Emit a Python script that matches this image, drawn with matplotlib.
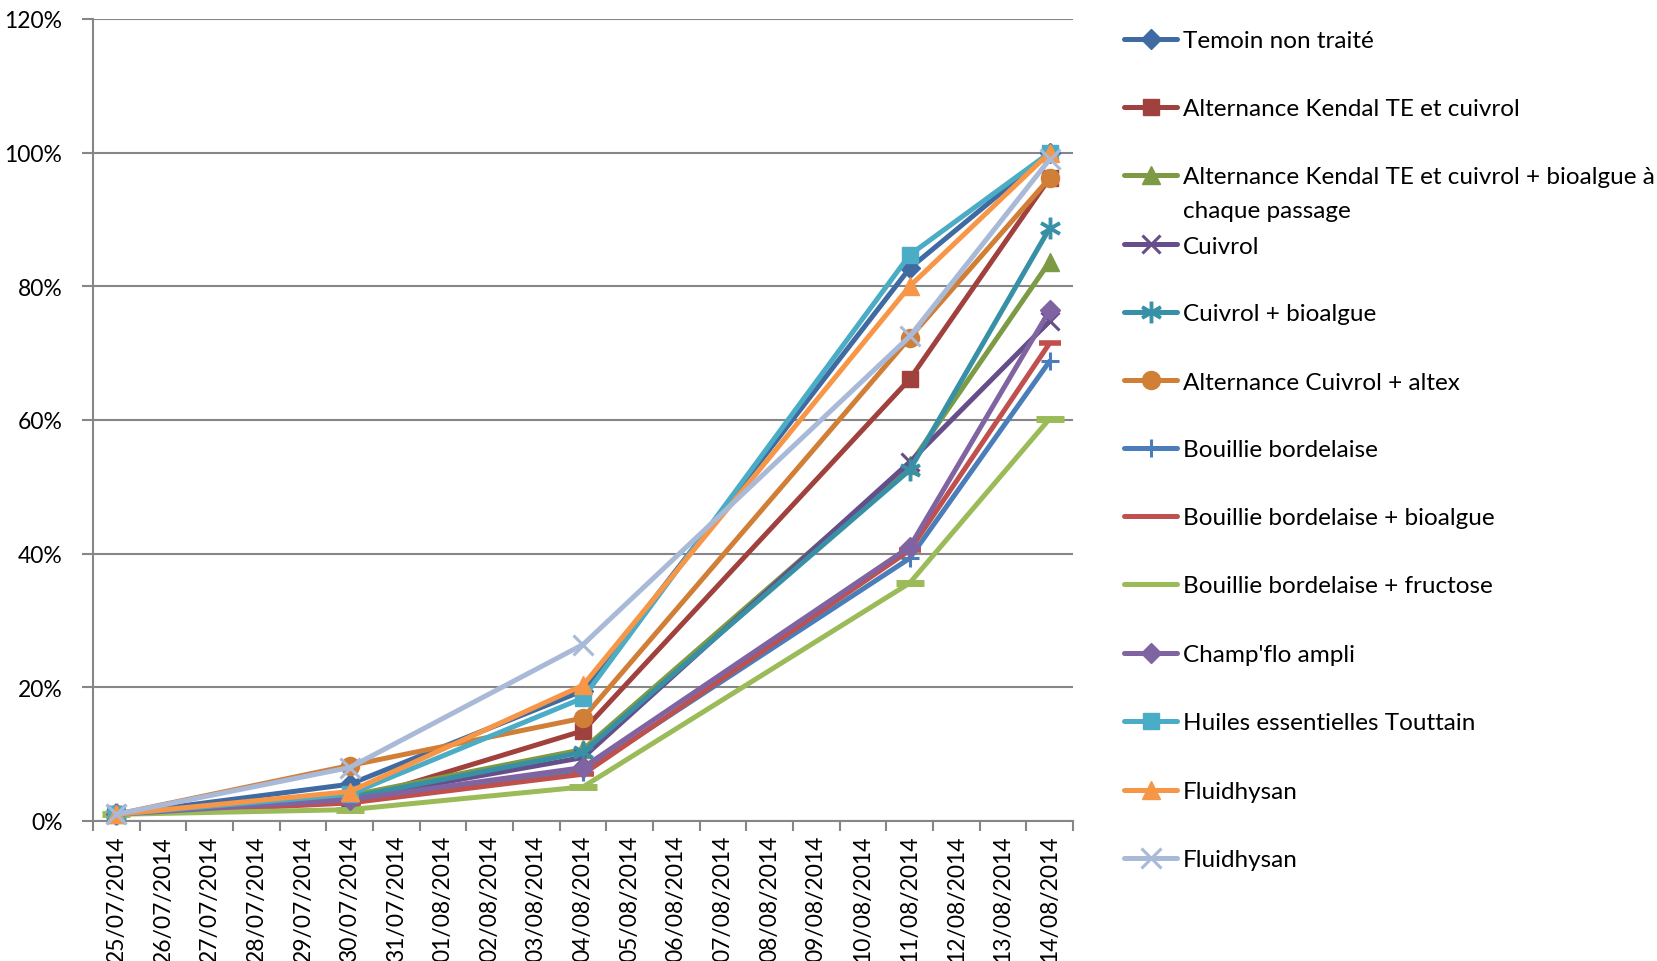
import matplotlib
matplotlib.use("Agg")
import matplotlib.pyplot as plt
import matplotlib.dates as mdates
from matplotlib.lines import Line2D
from matplotlib.ticker import FuncFormatter, MultipleLocator
import pandas as pd
import numpy as np

plt.rcParams['font.family'] = ['Lato', 'DejaVu Sans']

dates = ["25/07/2014", "30/07/2014", "04/08/2014", "11/08/2014", "14/08/2014"]
axis_start = "25/07/2014"
axis_end = "14/08/2014"

series_names = [
    "Temoin non traité",
    "Alternance Kendal TE et cuivrol",
    "Alternance Kendal TE et cuivrol + bioalgue à\nchaque passage",
    "Cuivrol",
    "Cuivrol + bioalgue",
    "Alternance Cuivrol + altex",
    "Bouillie bordelaise",
    "Bouillie bordelaise + bioalgue",
    "Bouillie bordelaise + fructose",
    "Champ'flo ampli",
    "Huiles essentielles Touttain",
    "Fluidhysan",
    "Fluidhysan",
]

temoin = [0.010, 0.055, 0.195, 0.827, 1.000]
kendal = [0.010, 0.029, 0.135, 0.661, 0.962]
kendal_bio = [0.010, 0.038, 0.107, 0.533, 0.837]
cuivrol = [0.010, 0.033, 0.095, 0.537, 0.748]
cuivrol_bio = [0.010, 0.035, 0.103, 0.525, 0.887]
cuivrol_altex = [0.010, 0.083, 0.154, 0.723, 0.962]
bouillie = [0.010, 0.029, 0.073, 0.393, 0.688]
bouillie_bio = [0.010, 0.027, 0.070, 0.405, 0.715]
bouillie_fru = [0.010, 0.017, 0.051, 0.356, 0.602]
champflo = [0.010, 0.032, 0.080, 0.410, 0.764]
huiles = [0.010, 0.040, 0.184, 0.847, 1.000]
fluid1 = [0.010, 0.044, 0.203, 0.800, 1.000]
fluid2 = [0.010, 0.080, 0.264, 0.725, 0.990]

values = [temoin, kendal, kendal_bio, cuivrol, cuivrol_bio, cuivrol_altex,
          bouillie, bouillie_bio, bouillie_fru, champflo, huiles, fluid1, fluid2]

colors = ['#3F6AA2', '#A0413E', '#7D9B45', '#664E8A', '#3790A6', '#D17E37',
          '#4A7EBB', '#C0504D', '#9BBB59', '#8064A2', '#4BACC6', '#F79646', '#A9BAD8']
markers = ['D', 's', '^', 'x', '$\u2217$', 'o', '+', '_', '_', 'D', 's', '^', 'x']
msizes = [10, 12, 13, 13, 15, 13, 13, 16, 20, 10, 12, 13, 14]
mews = [1, 1, 1, 2.2, 0.8, 1, 2.2, 4, 5, 1, 1, 1, 2.2]

W, H = 1658, 962
fig = plt.figure(figsize=(W / 100, H / 100), dpi=100)
ax = fig.add_axes([93 / W, 1 - 822 / H, (1073 - 93) / W, (822 - 20) / H])

x = pd.to_datetime(dates, format="%d/%m/%Y")
x0 = pd.to_datetime(axis_start, format="%d/%m/%Y")
x1 = pd.to_datetime(axis_end, format="%d/%m/%Y")

for vals, c, m, ms, mew in zip(values, colors, markers, msizes, mews):
    ax.plot(x, vals, color=c, lw=3.6, marker=m, ms=ms, mfc=c, mec=c, mew=mew,
            solid_joinstyle='round', solid_capstyle='round', clip_on=False, zorder=3)

half = pd.Timedelta(hours=12)
ax.set_xlim(mdates.date2num(x0 - half), mdates.date2num(x1 + half))
ax.set_ylim(0, 1.2)

all_days = pd.date_range(x0, x1, freq="D")
ax.set_xticks(mdates.date2num(all_days))
ax.set_xticklabels([d.strftime("%d/%m/%Y") for d in all_days], rotation=90, va='top', ha='center')
ax.set_xticks(mdates.date2num(pd.date_range(x0 - half, x1 + half, freq="D")), minor=True)
ax.tick_params(axis='x', which='major', length=0, pad=10, labelsize=16.5)
ax.tick_params(axis='x', which='minor', length=7, width=1.5, color='#868686')

ax.yaxis.set_major_locator(MultipleLocator(0.2))
ax.yaxis.set_major_formatter(FuncFormatter(lambda v, p: f"{v * 100:.0f}%"))
ax.tick_params(axis='y', length=8, width=1.5, color='#868686', labelsize=16.5, pad=14)
ax.grid(axis='y', color='#868686', lw=1.5)
ax.set_axisbelow(True)
for s in ['top', 'right']:
    ax.spines[s].set_visible(False)
for s in ['left', 'bottom']:
    ax.spines[s].set_color('#868686')
    ax.spines[s].set_linewidth(1.5)

# Legend (manual)
leg_y = [40, 108, 176, 245, 313, 381, 449, 517, 585, 654, 722, 791, 859]
for name, c, m, ms, mew, yy in zip(series_names, colors, markers, msizes, mews, leg_y):
    yf = 1 - yy / H
    fig.add_artist(Line2D([1124 / W, 1177 / W], [yf, yf], transform=fig.transFigure,
                          color=c, lw=3.6, solid_capstyle='round'))
    if m != '_':
        fig.add_artist(Line2D([1150.5 / W], [yf], transform=fig.transFigure, color=c,
                              marker=m, ms=ms, mfc=c, mec=c, mew=mew, lw=0))
    for i, line in enumerate(name.split('\n')):
        fig.text(1183 / W, 1 - (yy + 2 + i * 33) / H, line, fontsize=17.5,
                 va='center', ha='left', transform=fig.transFigure)

fig.savefig("out.png", dpi=100)
